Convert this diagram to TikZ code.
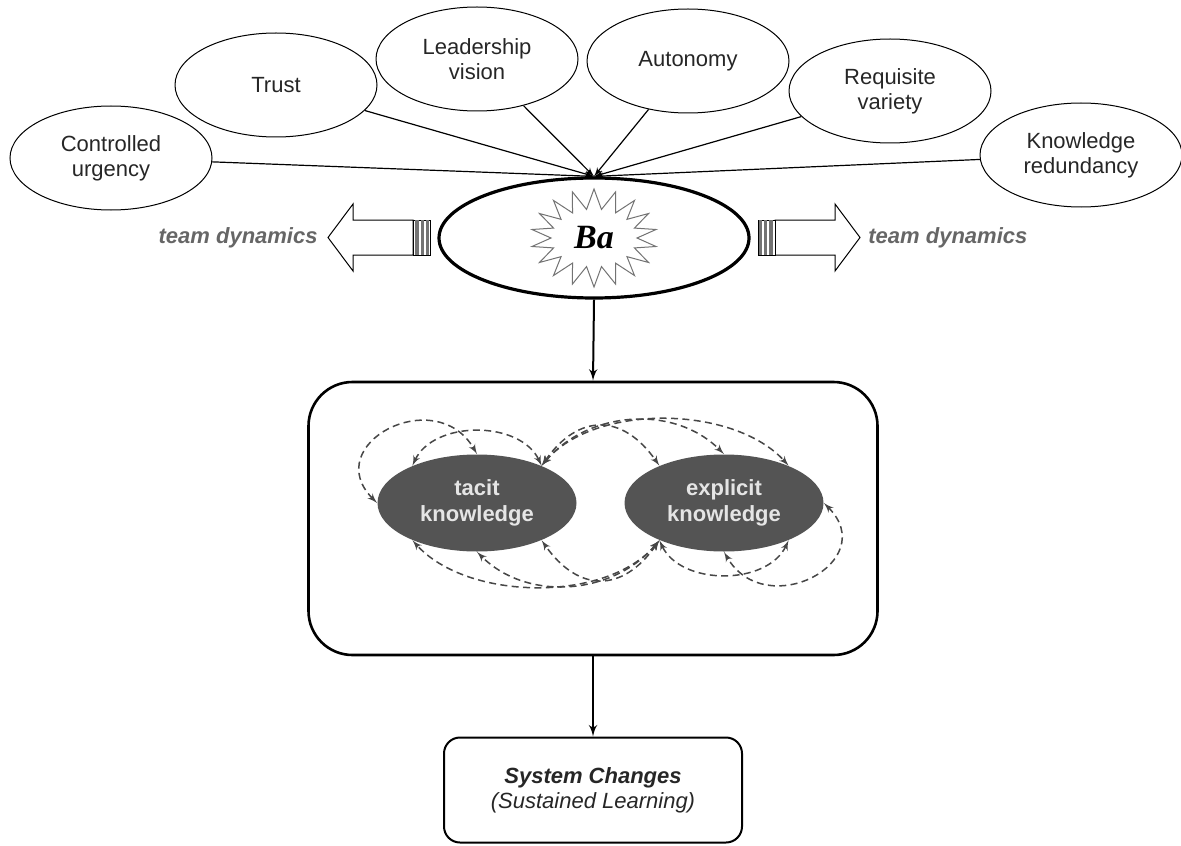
\documentclass[tikz,border=0pt]{standalone}
\usepackage{fontspec}
\setmainfont{Liberation Sans}
\newfontfamily\baserif{Liberation Serif}
\usepackage{tikz}
\usetikzlibrary{shapes,arrows,positioning}

\begin{document}
\begin{tikzpicture}[x=0.5pt, y=-0.5pt,
    factor/.style={ellipse, draw, line width=0.5pt, minimum width=101pt, minimum height=52pt, align=center, text=black!85, font=\fontsize{11}{12.5}\selectfont},
    know/.style={ellipse, fill=black!67, minimum width=99.5pt, minimum height=48.5pt, align=center, text=white!90!black, font=\fontsize{11}{13}\selectfont\bfseries},
    line/.style={draw, line width=0.6pt, -latex'},
    conv/.style={draw=black!72, line width=0.75pt, dash pattern=on 3.5pt off 2.2pt, latex'-latex'},
    flow/.style={draw, line width=0.5pt, fill=white},
    dyn/.style={text=black!60, inner sep=0pt, font=\fontsize{11}{13}\selectfont\bfseries\itshape}
]
    \useasboundingbox (0,0) rectangle (1181,845);

    \node [factor] (urgency) at (111,158) {Controlled\\urgency};
    \node [factor] (trust) at (276,85) {Trust};
    \node [factor] (vision) at (477,59) {Leadership\\vision};
    \node [factor] (autonomy) at (688,61) {Autonomy};
    \node [factor] (variety) at (890,91) {Requisite\\variety};
    \node [factor] (redundancy) at (1081,155) {Knowledge\\redundancy};

    \node [ellipse, draw, line width=1.6pt, minimum width=155pt, minimum height=60pt] (ba) at (594,238) {};
    \node [starburst, starburst points=18, starburst point height=10pt, random starburst=0, draw=black!55, line width=0.5pt, fill=white, minimum width=63pt, minimum height=49pt] (burst) at (ba.center) {\baserif\bfseries\itshape\fontsize{17}{17}\selectfont Ba};

    \foreach \f in {urgency,trust,vision,autonomy,variety,redundancy}
        \path [line] (\f) -- (ba.north);

    % team dynamics arrows
    \coordinate (ltip) at (328,237.5);
    \coordinate (rtip) at (860,237.5);
    \draw [flow] (ltip) -- ++(25,-33.5) -- ++(0,16) -- ++(60,0) -- ++(0,35) -- ++(-60,0) -- ++(0,16) -- cycle;
    \draw [flow] (rtip) -- ++(-25,-33.5) -- ++(0,16) -- ++(-60,0) -- ++(0,35) -- ++(60,0) -- ++(0,16) -- cycle;
    \draw [flow] (413,220) rectangle (430,255);
    \draw [flow] (758,220) rectangle (775,255);
    \foreach \x/\w in {415/4, 421/3, 426/3, 759/3, 764/3, 769/4}
        \fill [black!55] (\x,220) rectangle ++(\w,35);
    \node [dyn, left=5pt of ltip] (ldyn) {team dynamics};
    \node [dyn, right=4pt of rtip] (rdyn) {team dynamics};

    \node [draw, line width=1.3pt, rounded corners=22pt, minimum width=284.5pt, minimum height=136.5pt] (space) at (593,518.5) {};
    \node [know] (tacit) at (477,503) {tacit\\knowledge};
    \node [know] (explicit) at (724,503) {explicit\\knowledge};

    \node [draw, line width=1pt, rounded corners=8pt, minimum width=149pt, minimum height=52.5pt, align=center, text=black!85, font=\fontsize{11}{12.5}\selectfont] (change) at (593,790) {\textbf{\textit{System Changes}}\\\textit{(Sustained Learning)}};

    \path [line, line width=1pt] (ba.south) -- (space.north);
    \path [line, line width=1pt] (space.south) -- (change.north);

    \draw [conv] (tacit.180) to[out=135, in=120, looseness=1.9] (tacit.90);
    \draw [conv] (tacit.150) to[out=65, in=115] (tacit.30);
    \draw [conv] (tacit.30) to[out=55, in=125, looseness=1.4] (explicit.150);
    \draw [conv] (tacit.30) to[out=50, in=135] (explicit.90);
    \draw [conv] (tacit.30) to[out=50, in=132, looseness=0.85] (explicit.30);
    \draw [conv] (explicit.0) to[out=315, in=300, looseness=1.9] (explicit.270);
    \draw [conv] (explicit.330) to[out=245, in=295] (explicit.210);
    \draw [conv] (explicit.210) to[out=235, in=305, looseness=1.4] (tacit.330);
    \draw [conv] (explicit.210) to[out=230, in=315] (tacit.270);
    \draw [conv] (explicit.210) to[out=230, in=312, looseness=0.85] (tacit.210);
\end{tikzpicture}
\end{document}
